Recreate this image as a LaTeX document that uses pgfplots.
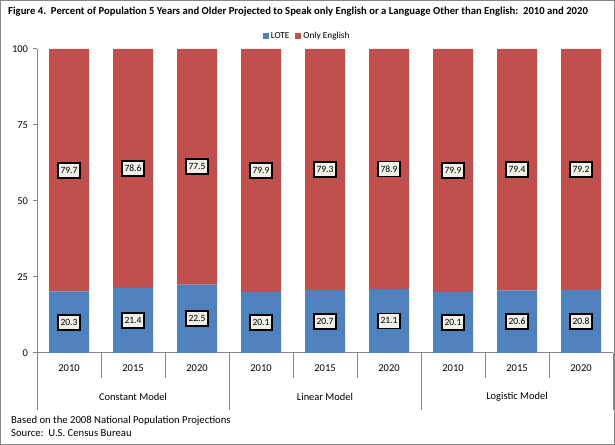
\documentclass[border=0pt]{standalone}
\usepackage{fontspec}
\setmainfont{Carlito}
\usepackage{pgfplots}
\pgfplotsset{compat=1.18}
\definecolor{lote}{HTML}{4F81BD}
\definecolor{eng}{HTML}{C0504D}
\definecolor{axgray}{HTML}{868686}
\definecolor{lblfill}{HTML}{F0EFE8}
\begin{document}
\begin{tikzpicture}[x=1bp,y=1bp]
\draw[axgray, line width=1.3bp] (0.65,0.65) rectangle (614.35,444.35);
\node[anchor=west, font=\bfseries\fontsize{10.7}{12}\selectfont, inner sep=0] at (8,433) {Figure 4.\ \ Percent of Population 5 Years and Older Projected to Speak only English or a Language Other than English:\ \ 2010 and 2020};
\node[anchor=west, font=\fontsize{10.7}{12}\selectfont, inner sep=0] at (11,24) {Based on the 2008 National Population Projections};
\node[anchor=west, font=\fontsize{10.7}{12}\selectfont, inner sep=0] at (11,12) {Source:\ \ U.S. Census Bureau};
\begin{axis}[
  at={(37bp,92bp)}, anchor=south west,
  scale only axis, width=576bp, height=304bp,
  ybar stacked, bar width=40bp,
  xmin=-0.5, xmax=8.5, ymin=0, ymax=100,
  enlarge x limits=false, enlarge y limits=false,
  clip=false,
  axis x line*=bottom, axis y line*=left,
  axis line style={axgray, line width=1bp},
  ytick={0,25,50,75,100},
  ytick style={axgray, line width=1bp},
  major tick length=4bp, tick align=outside,
  xtick={0,...,8},
  xticklabels={2010,2015,2020,2010,2015,2020,2010,2015,2020},
  xtick style={draw=none},
  xticklabel style={yshift=-4bp},
  yticklabel style={xshift=-1.5bp},
  ticklabel style={font=\fontsize{10.5}{12}\selectfont},
  /pgf/number format/assume math mode=true,
  legend style={at={(axis description cs:0.469,1.043)}, anchor=center, draw=none, fill=none,
    legend columns=2, font=\fontsize{9.3}{11}\selectfont,
    /tikz/every even column/.append style={column sep=4bp}},
  legend image code/.code={\fill[#1] (0bp,-3bp) rectangle (6bp,3bp);},
]
\addplot[fill=lote, draw=none] coordinates {(0,20.3) (1,21.4) (2,22.5) (3,20.1) (4,20.7) (5,21.1) (6,20.1) (7,20.6) (8,20.8)};
\addplot[fill=eng, draw=none] coordinates {(0,79.7) (1,78.6) (2,77.5) (3,79.9) (4,79.3) (5,78.9) (6,79.9) (7,79.4) (8,79.2)};
\legend{LOTE, Only English}
\pgfplotsinvokeforeach{-0.5,0.5,1.5,2.5,3.5,4.5,5.5,6.5,7.5,8.5}{
  \draw[axgray, line width=1bp] (axis cs:#1,0) -- ([yshift=-25bp]axis cs:#1,0);
}
\pgfplotsinvokeforeach{-0.5,2.5,5.5,8.5}{
  \draw[axgray, line width=1bp] (axis cs:#1,0) -- ([yshift=-57bp]axis cs:#1,0);
}
\node[font=\fontsize{10.5}{12}\selectfont] at ([yshift=-44bp]axis cs:1,0) {Constant Model};
\node[font=\fontsize{10.5}{12}\selectfont] at ([yshift=-44bp]axis cs:4,0) {Linear Model};
\node[font=\fontsize{10.5}{12}\selectfont] at ([yshift=-44bp]axis cs:7,0) {Logistic Model};
\end{axis}
\begin{axis}[
  at={(37bp,92bp)}, anchor=south west,
  scale only axis, width=576bp, height=304bp,
  xmin=-0.5, xmax=8.5, ymin=0, ymax=100,
  hide axis, clip=false,
  nodes near coords, point meta=explicit symbolic,
  nodes near coords align=center,
  every node near coord/.append style={font=\fontsize{9.6}{11}\selectfont, fill=lblfill, draw=black,
    line width=1.8bp, inner xsep=2.2bp, inner ysep=0bp, minimum height=15bp, text=black, anchor=center},
]
\addplot[draw=none, mark=none] coordinates {
 (0,10.15)[20.3] (1,10.7)[21.4] (2,11.25)[22.5] (3,10.05)[20.1] (4,10.35)[20.7]
 (5,10.55)[21.1] (6,10.05)[20.1] (7,10.3)[20.6] (8,10.4)[20.8]};
\addplot[draw=none, mark=none] coordinates {
 (0,60.15)[79.7] (1,60.7)[78.6] (2,61.25)[77.5] (3,60.05)[79.9] (4,60.35)[79.3]
 (5,60.55)[78.9] (6,60.05)[79.9] (7,60.3)[79.4] (8,60.4)[79.2]};
\end{axis}
\end{tikzpicture}
\end{document}
